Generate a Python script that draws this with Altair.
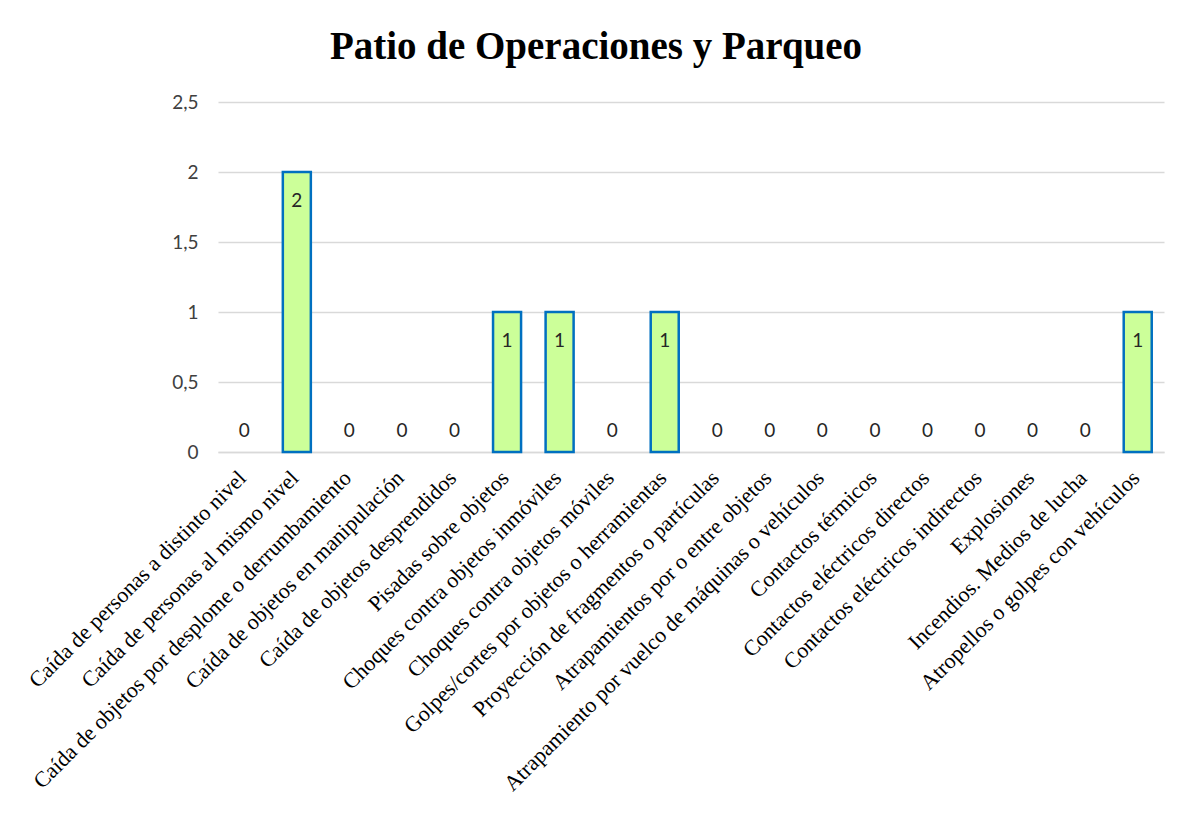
import altair as alt
import pandas as pd

categories = [
    "Caída de personas a distinto nivel",
    "Caída de personas al mismo nivel",
    "Caída de objetos por desplome o derrumbamiento",
    "Caída de objetos en manipulación",
    "Caída de objetos desprendidos",
    "Pisadas sobre objetos",
    "Choques contra objetos inmóviles",
    "Choques contra objetos móviles",
    "Golpes/cortes por objetos o herramientas",
    "Proyección de fragmentos o partículas",
    "Atrapamientos por o entre objetos",
    "Atrapamiento por vuelco de máquinas o vehículos",
    "Contactos térmicos",
    "Contactos eléctricos directos",
    "Contactos eléctricos indirectos",
    "Explosiones",
    "Incendios. Medios de lucha",
    "Atropellos o golpes con vehículos",
]
values = [0, 2, 0, 0, 0, 1, 1, 0, 1, 0, 0, 0, 0, 0, 0, 0, 0, 1]
y_ticks = [0, 0.5, 1, 1.5, 2, 2.5]

df = pd.DataFrame({"cat": categories, "val": values})

W, H = 946, 350
PL, PT = 210, 94
PR = 1176 - PL - W
PB = 801 - PT - H

xscale = alt.Scale(domain=categories, paddingInner=0.467, paddingOuter=0.2335)

x = alt.X(
    "cat:N",
    sort=categories,
    title=None,
    scale=xscale,
    axis=alt.Axis(
        labelAngle=-45,
        labelFont="Liberation Serif",
        labelFontSize=22,
        labelColor="#000000",
        labelPadding=15,
        labelOffset=-9,
        labelLimit=600,
        ticks=False,
        domain=True,
        domainColor="#d9d9d9",
        domainWidth=1.5,
        grid=False,
    ),
)
y = alt.Y(
    "val:Q",
    title=None,
    scale=alt.Scale(domain=[0, 2.5], nice=False),
    axis=alt.Axis(
        values=y_ticks,
        labelExpr="replace(format(datum.value, ''), '.', ',')",
        labelFont="Lato",
        labelFontSize=19,
        labelColor="#404040",
        labelPadding=20,
        ticks=False,
        domain=False,
        grid=True,
        gridColor="#d9d9d9",
        gridWidth=1.5,
    ),
)

xs = alt.X("cat:N", sort=categories, scale=xscale)

base = alt.Chart(df)
bars = base.transform_filter("datum.val > 0").mark_bar(
    color="#ccff99", stroke="#0070c0", strokeWidth=2.5
).encode(x=x, y=y)
lab_in = base.transform_filter("datum.val > 0").mark_text(
    font="Lato", fontSize=19, color="#262626", baseline="alphabetic", dy=35
).encode(x=xs, y="val:Q", text="val:Q")
lab_zero = base.transform_filter("datum.val == 0").mark_text(
    font="Lato", fontSize=19, color="#262626", baseline="alphabetic", dy=-15
).encode(x=xs, y="val:Q", text="val:Q")

chart = (
    alt.layer(bars, lab_in, lab_zero)
    .properties(
        width=W,
        height=H,
        autosize=alt.AutoSizeParams(type="none"),
        padding={"left": PL, "top": PT, "right": PR, "bottom": PB},
        title=alt.TitleParams(
            "Patio de Operaciones y Parqueo",
            font="Liberation Serif",
            fontSize=39,
            fontWeight="bold",
            color="#000000",
            anchor="middle",
            baseline="alphabetic",
            offset=39,
            dx=-95,
            dy=44,
        ),
    )
    .configure(background="#ffffff")
    .configure_view(stroke=None, strokeWidth=0)
)

chart.save("out.html", embed_options={"renderer": "svg", "actions": False})
